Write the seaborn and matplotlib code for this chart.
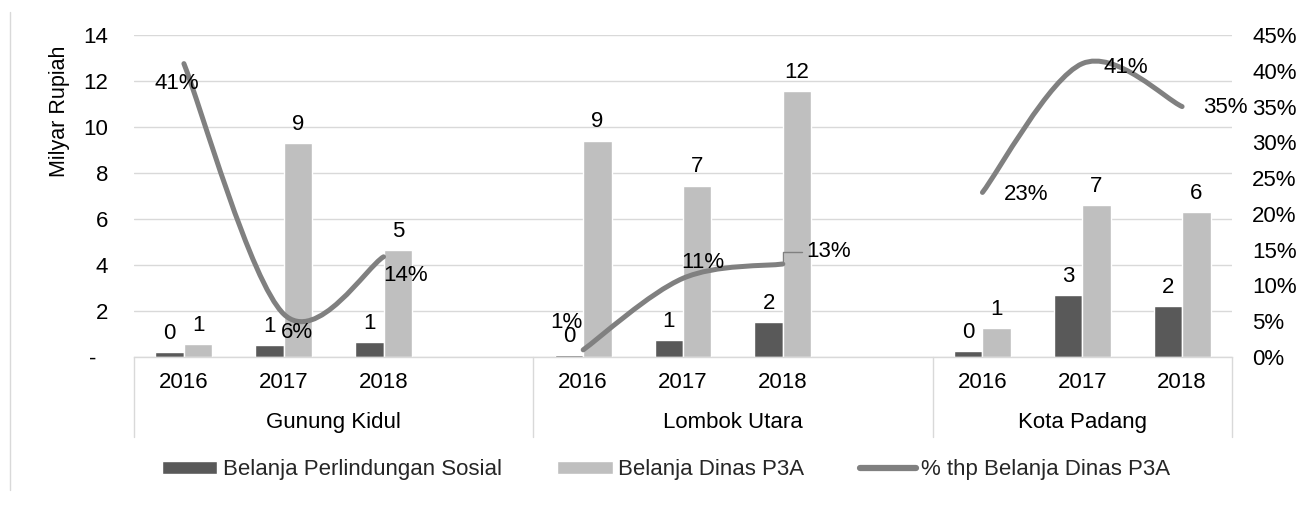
import numpy as np
import pandas as pd
import seaborn as sns
import matplotlib.pyplot as plt
from matplotlib.path import Path
from matplotlib.patches import PathPatch, Patch
from matplotlib.lines import Line2D
from matplotlib.transforms import blended_transform_factory

# data
regions = ["Gunung Kidul", "Lombok Utara", "Kota Padang"]
years = ["2016", "2017", "2018"]
perlindungan_sosial = [0.22, 0.52, 0.65, 0.08, 0.74, 1.52, 0.26, 2.70, 2.22]
dinas_p3a = [0.55, 9.30, 4.65, 9.40, 7.45, 11.57, 1.26, 6.60, 6.30]
persen = [0.41, 0.06, 0.14, 0.01, 0.11, 0.13, 0.23, 0.41, 0.35]
series_names = ["Belanja Perlindungan Sosial", "Belanja Dinas P3A", "% thp Belanja Dinas P3A"]
y_ticks = [0, 2, 4, 6, 8, 10, 12, 14]
y_tick_labels = ["-  ", "2", "4", "6", "8", "10", "12", "14"]
pct_ticks = [0, 0.05, 0.10, 0.15, 0.20, 0.25, 0.30, 0.35, 0.40, 0.45]

sns.set_theme(style="white")
plt.rcParams["font.family"] = ["Liberation Sans", "DejaVu Sans"]
FS = 16
DARK, LIGHT, LINE, GRID = "#595959", "#bfbfbf", "#808080", "#d9d9d9"

# category slots, with an empty slot between regions (as in the Excel sheet)
slot_order = []
for i, r in enumerate(regions):
    slot_order += [f"{r} {y}" for y in years]
    if i < len(regions) - 1:
        slot_order.append(f"{r} kosong")

rows = []
k = 0
for r in regions:
    for y in years:
        rows.append({"slot": f"{r} {y}", "seri": series_names[0], "nilai": perlindungan_sosial[k]})
        rows.append({"slot": f"{r} {y}", "seri": series_names[1], "nilai": dinas_p3a[k]})
        k += 1
df = pd.DataFrame(rows)

fig = plt.figure(figsize=(13.03, 5.05), dpi=100)
W, H = 1303, 505
ax = fig.add_axes([134 / W, 1 - 357 / H, (1232 - 134) / W, (357 - 35) / H])

sns.barplot(data=df, x="slot", y="nilai", hue="seri", order=slot_order,
            hue_order=series_names[:2], palette=[DARK, LIGHT], width=0.57,
            saturation=1, errorbar=None, legend=False, ax=ax)
ax.set_xlim(-0.5, len(slot_order) - 0.5)
ax.set_ylim(0, 14)
ax.set_xlabel("")
ax.set_ylabel("")
ax.set_yticks(y_ticks)
ax.set_yticklabels(y_tick_labels, fontsize=FS, color="black")
ax.tick_params(axis="y", length=0, pad=18.5)
ax.yaxis.grid(True, color=GRID, lw=1)
ax.set_axisbelow(True)
for s in ["left", "right", "top"]:
    ax.spines[s].set_visible(False)
ax.spines["bottom"].set_color(GRID)
ax.spines["bottom"].set_linewidth(1)

pos = [slot_order.index(f"{r} {y}") for r in regions for y in years]
ax.set_xticks(pos)
ax.set_xticklabels([y for r in regions for y in years], fontsize=FS, color="black")
ax.tick_params(axis="x", length=0, pad=11)

for cont in ax.containers:
    labs = [f"{int(np.floor(b.get_height() + 0.5))}" for b in cont]
    ax.bar_label(cont, labels=labs, padding=6, fontsize=FS, color="black")

# category axis: separators and region names
tr = blended_transform_factory(ax.transData, ax.transAxes)
seps = [-0.5] + [slot_order.index(f"{r} kosong") + 0.5 for r in regions[:-1]] + [len(slot_order) - 0.5]
for x in seps:
    ax.plot([x, x], [0, -80 / 322], transform=tr, color=GRID, lw=1, clip_on=False)
for i, r in enumerate(regions):
    ax.text((seps[i] + seps[i + 1]) / 2, -(428 - 357) / 322, r, transform=tr,
            ha="center", va="baseline", fontsize=FS, color="black")

# secondary axis with smoothed percentage line
ax2 = ax.twinx()
ax2.set_ylim(0, 0.45)
ax2.set_yticks(pct_ticks)
ax2.set_yticklabels([f"{round(t * 100)}%" for t in pct_ticks], fontsize=FS, color="black")
ax2.tick_params(axis="y", length=0, pad=14.5)
for s in ax2.spines.values():
    s.set_visible(False)


def smooth_path(xs, ys):
    p = np.column_stack([xs, ys]).astype(float)
    n = len(p)
    verts = [p[0]]
    codes = [Path.MOVETO]
    for i in range(n - 1):
        p_prev = p[i - 1] if i > 0 else p[i]
        p_next = p[i + 2] if i + 2 < n else p[i + 1]
        c1 = p[i] + (p[i + 1] - p_prev) / 6
        c2 = p[i + 1] - (p_next - p[i]) / 6
        verts += [c1, c2, p[i + 1]]
        codes += [Path.CURVE4] * 3
    return Path(verts, codes)


for i in range(len(regions)):
    xs = pos[i * 3:(i + 1) * 3]
    ys = persen[i * 3:(i + 1) * 3]
    ax2.add_patch(PathPatch(smooth_path(xs, ys), fill=False, edgecolor=LINE,
                            lw=3.6, capstyle="round", joinstyle="round"))

pct_offsets = [(-7, -20), (13, -18), (22, -19), (-17, 27), (20, 16), (46, 12),
               (44, -2), (44, -4), (43, -1)]
for j, (x, v) in enumerate(zip(pos, persen)):
    dx, dy = pct_offsets[j]
    kw = {}
    if j == 5:
        kw = dict(arrowprops=dict(arrowstyle="-", color=LINE, lw=1, shrinkA=1, shrinkB=2,
                                  relpos=(0, 0.5),
                                  connectionstyle="angle,angleA=0,angleB=90,rad=0"))
    ax2.annotate(f"{round(v * 100)}%", (x, v), xytext=(dx, dy), textcoords="offset pixels",
                 ha="center", va="center", fontsize=FS, color="black", **kw)

fig.text(59 / W, 1 - 111 / H, "Milyar Rupiah", rotation=90, ha="center", va="center",
         fontsize=15.5, color="black")
fig.add_artist(Line2D([10 / W, 10 / W], [1 - 12 / H, 1 - 490 / H], color=GRID, lw=1))

handles = [Patch(facecolor=DARK), Patch(facecolor=LIGHT),
           Line2D([], [], color=LINE, lw=4.5, solid_capstyle="round")]
fig.legend(handles, series_names, loc="center", bbox_to_anchor=(666 / W, 1 - 470 / H),
           ncol=3, frameon=False, fontsize=FS, handlelength=2.5, handleheight=0.5,
           handletextpad=0.25, columnspacing=2.5)

fig.savefig("out.png", dpi=100)
